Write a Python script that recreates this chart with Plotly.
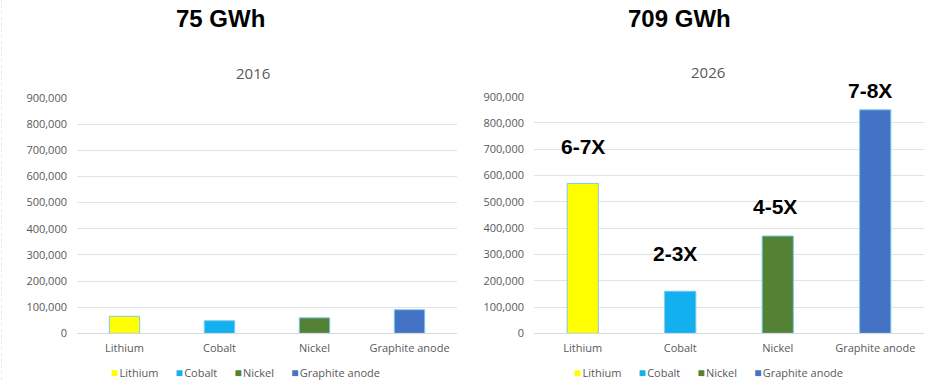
import plotly.graph_objects as go

materials = ["Lithium", "Cobalt", "Nickel", "Graphite anode"]
values_2016 = [65000, 48000, 59000, 90000]
values_2026 = [570000, 160000, 370000, 850000]
growth_labels = ["6-7X", "2-3X", "4-5X", "7-8X"]
y_ticks = [0, 100000, 200000, 300000, 400000, 500000, 600000, 700000, 800000, 900000]

colors = ["#FFFF00", "#12B0EE", "#548235", "#4472C4"]
outline = "#7CC8EE"

fig = go.Figure()

for i, m in enumerate(materials):
    fig.add_trace(go.Bar(
        x=[m], y=[values_2016[i]], name=m, xaxis="x", yaxis="y",
        marker=dict(color=colors[i], line=dict(color=outline, width=1)),
        width=0.32, hoverinfo="skip", showlegend=False))
for i, m in enumerate(materials):
    fig.add_trace(go.Bar(
        x=[m], y=[values_2026[i]], name=m, xaxis="x2", yaxis="y2",
        marker=dict(color=colors[i], line=dict(color=outline, width=1)),
        width=0.32, hoverinfo="skip", showlegend=False))

H = 380.0
W = 936.0
FONT = "Open Sans, Liberation Sans, Arial"
tickfont = dict(family=FONT, size=11, color="#595959")
common_y = dict(range=[0, 900000], tickvals=y_ticks, tickformat=",", showgrid=True,
                gridcolor="#E3E3E3", gridwidth=1, zeroline=False, showline=False,
                ticks="", tickfont=tickfont, fixedrange=True, ticklabelstandoff=9)
common_x = dict(showgrid=False, showline=True, linecolor="#D9D9D9", linewidth=1,
                ticks="", tickfont=tickfont, categoryorder="array",
                categoryarray=materials, fixedrange=True, ticklabelstandoff=4)

fig.update_layout(
    width=936, height=380,
    margin=dict(l=0, r=0, t=0, b=0, autoexpand=False),
    paper_bgcolor="white", plot_bgcolor="white",
    barmode="overlay",
    showlegend=False,
    xaxis=dict(domain=[77 / W, 457 / W], anchor="y", **common_x),
    yaxis=dict(domain=[1 - 333.3 / H, 1 - 98 / H], anchor="x", **common_y),
    xaxis2=dict(domain=[534 / W, 924 / W], anchor="y2", **common_x),
    yaxis2=dict(domain=[1 - 333.3 / H, 1 - 96.7 / H], anchor="x2", **common_y),
)

# compact Excel-style legend built as text
NB = "\u00a0"
def legend_text():
    parts = []
    for i, m in enumerate(materials):
        parts.append('<span style="font-size:12px;color:%s">\u25A0</span>'
                     '<span style="font-size:5px">%s</span>%s' % (colors[i], NB, m))
    return (NB * 6).join(parts)

annotations = [
    dict(text="<b>75 GWh</b>", x=220 / W, y=1 - 18 / H, xref="paper", yref="paper",
         showarrow=False, font=dict(family="Liberation Sans, Arial", size=24, color="black"),
         xanchor="center", yanchor="middle"),
    dict(text="<b>709 GWh</b>", x=679 / W, y=1 - 18 / H, xref="paper", yref="paper",
         showarrow=False, font=dict(family="Liberation Sans, Arial", size=24, color="black"),
         xanchor="center", yanchor="middle"),
    dict(text="2016", x=253 / W, y=1 - 73 / H, xref="paper", yref="paper",
         showarrow=False, font=dict(family=FONT, size=15, color="#595959"),
         xanchor="center", yanchor="middle"),
    dict(text="2026", x=708 / W, y=1 - 72 / H, xref="paper", yref="paper",
         showarrow=False, font=dict(family=FONT, size=15, color="#595959"),
         xanchor="center", yanchor="middle"),
    dict(text=legend_text(), x=245 / W, y=1 - 372 / H, xref="paper", yref="paper",
         showarrow=False, font=dict(family=FONT, size=11, color="#595959"),
         xanchor="center", yanchor="middle"),
    dict(text=legend_text(), x=708 / W, y=1 - 372 / H, xref="paper", yref="paper",
         showarrow=False, font=dict(family=FONT, size=11, color="#595959"),
         xanchor="center", yanchor="middle"),
]
label_yshift = [36.6, 38, 29.7, 19]
label_xshift = [0, -5, -3, -5]
for i, m in enumerate(materials):
    annotations.append(dict(
        text="<b>" + growth_labels[i] + "</b>", x=m, y=values_2026[i], xref="x2", yref="y2",
        showarrow=False, yshift=label_yshift[i], xshift=label_xshift[i],
        xanchor="center", yanchor="middle",
        font=dict(family="Liberation Sans, Arial", size=21, color="black")))
fig.update_layout(annotations=annotations)

# faint dotted page border at the left edge
fig.add_shape(type="line", xref="paper", yref="paper", x0=1.5 / W, x1=1.5 / W, y0=0, y1=1,
              line=dict(color="#E6E6E6", width=1, dash="dot"))

fig.write_html("out.html", config={"displayModeBar": False},
               post_script="document.body.style.margin='0';document.body.style.overflow='hidden';")
